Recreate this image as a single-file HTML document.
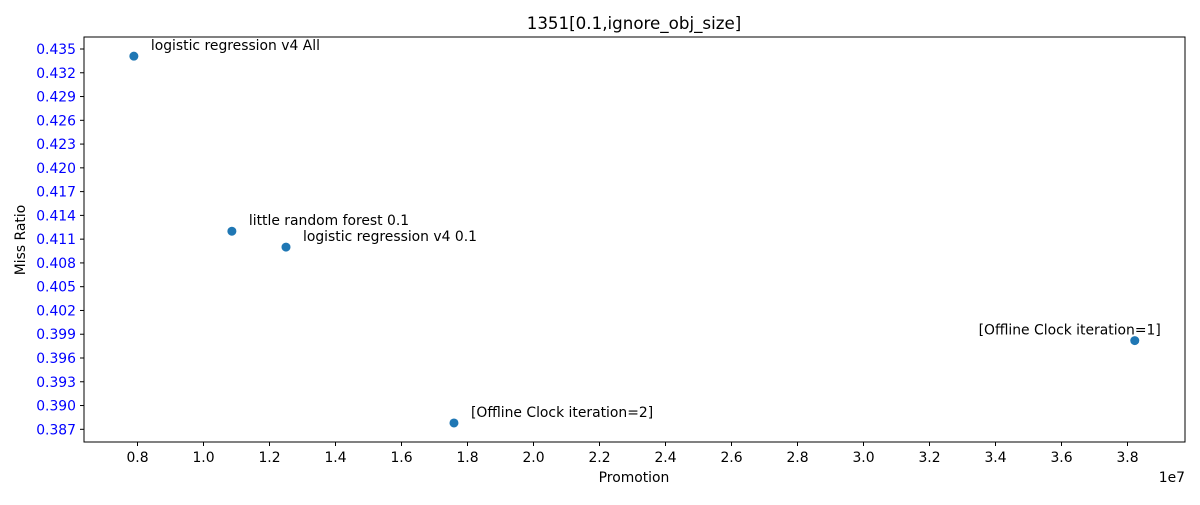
<!DOCTYPE html>
<html><head><meta charset="utf-8"><style>
body{margin:0;background:#fff}
svg{font-family:"DejaVu Sans","Liberation Sans",sans-serif}
</style></head><body>
<svg id="chart" width="1200" height="500" xmlns="http://www.w3.org/2000/svg">
<rect width="1200" height="500" fill="#fff"/>
<text x="634" y="29" font-size="16.7" text-anchor="middle">1351[0.1,ignore_obj_size]</text>
<text x="634" y="482" font-size="13.9" text-anchor="middle">Promotion</text>
<text transform="translate(25,240) rotate(-90)" font-size="13.9" text-anchor="middle">Miss Ratio</text>
<text x="1185" y="482" font-size="13.9" text-anchor="end">1e7</text>
<g id="axes"></g>
<g id="marks"></g>
<rect x="84" y="37" width="1101" height="405" fill="none" stroke="#000" stroke-width="1"/>
</svg>
<script>
const labels=["logistic regression v4 All","little random forest 0.1","logistic regression v4 0.1","[Offline Clock iteration=2]","[Offline Clock iteration=1]"];
const promotion=[0.789,1.086,1.250,1.759,3.822];
const missRatio=[0.4341,0.4120,0.4100,0.3878,0.3982];
const xTicks=[0.8,1.0,1.2,1.4,1.6,1.8,2.0,2.2,2.4,2.6,2.8,3.0,3.2,3.4,3.6,3.8];
const yTicks=[0.387,0.390,0.393,0.396,0.399,0.402,0.405,0.408,0.411,0.414,0.417,0.420,0.423,0.426,0.429,0.432,0.435];
const X=v=>137.5+(v-0.8)*330;
const Y=v=>49+(0.435-v)*7923;
const NS="http://www.w3.org/2000/svg";
const axes=document.getElementById('axes'),marks=document.getElementById('marks');
function mk(t,a,p){const e=document.createElementNS(NS,t);for(const k in a)e.setAttribute(k,a[k]);p.appendChild(e);return e;}
xTicks.forEach(v=>{
 const l=mk('line',{x1:X(v),x2:X(v),y1:442,y2:446,stroke:'#000'},axes);
 
 
 const t=mk('text',{x:X(v),y:462,'font-size':13.9,'text-anchor':'middle'},axes);t.textContent=v.toFixed(1);
 
 
});
yTicks.forEach(v=>{
 const l=mk('line',{x1:80,x2:84,y1:Y(v),y2:Y(v),stroke:'#000'},axes);
 
 
 const t=mk('text',{x:76,y:Y(v)+5,'font-size':13.9,'text-anchor':'end',fill:'#0000ff'},axes);t.textContent=v.toFixed(3);
 
 
});
promotion.forEach((p,i)=>{
 const c=mk('circle',{cx:X(p),cy:Y(missRatio[i]),r:4.5,fill:'#1f77b4'},marks);
 
 
 const last=i===labels.length-1;
 const t=mk('text',{x:last?X(p)+26:X(p)+17,y:Y(missRatio[i])-6,'font-size':13.9,'text-anchor':last?'end':'start'},marks);
 t.textContent=labels[i];
 
 
});
</script>
</body></html>
